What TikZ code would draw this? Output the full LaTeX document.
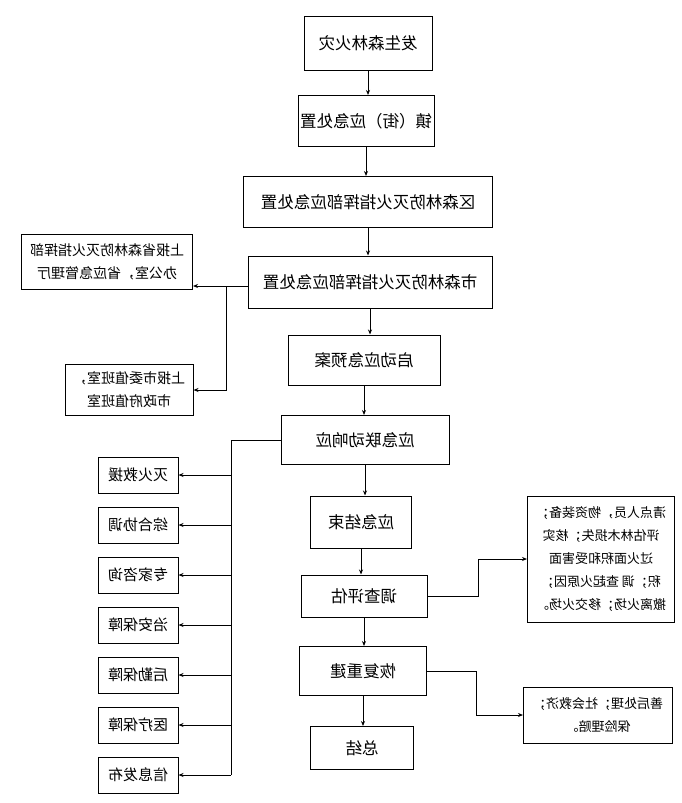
\documentclass[tikz,border=0pt]{standalone}
\usepackage{fontspec}
\setmainfont{Noto Sans CJK SC}
\usetikzlibrary{arrows.meta}

\begin{document}
\begin{tikzpicture}[x=1pt,y=-1pt,
  box/.style={draw,black,line width=1pt,xscale=-1,inner sep=2pt,align=center,font=\fontsize{16.5}{23}\selectfont},
  sidebox/.style={box,font=\fontsize{14}{23}\selectfont},
  listbox/.style={box,font=\fontsize{15}{23}\selectfont},
  notebox/.style={box,font=\fontsize{13}{23}\selectfont},
  arr/.style={line width=1pt,-{Stealth[length=\l, width=\w]}},
  line/.style={line width=1pt}]
\def\l{5pt}
\def\w{4pt}

\useasboundingbox (0,0) rectangle (681,803);

% main chain (boxes are mirrored: east is drawn on the left)
\node [box, minimum width=128, minimum height=54, name=b1]  at (368,43)  {发生森林火灾};
\node [box, minimum width=131, minimum height=51, name=b2]  at (366,121) {镇（街）应急处置};
\node [box, minimum width=249, minimum height=51, name=b3]  at (368,202) {区森林防灭火指挥部应急处置};
\node [box, minimum width=244, minimum height=52, name=b4]  at (370,282) {市森林防灭火指挥部应急处置};
\node [box, minimum width=152, minimum height=50, name=b5]  at (364,360) {启动应急预案};
\node [box, minimum width=168, minimum height=49, name=b6]  at (365,440) {应急联动响应};
\node [box, minimum width=101, minimum height=52, name=b7]  at (361,522) {应急结束};
\node [box, minimum width=126, minimum height=42, name=b8]  at (364,596) {调查评估};
\node [box, minimum width=127, minimum height=49, name=b9]  at (363,671) {恢复重建};
\node [box, minimum width=103, minimum height=43, name=b10] at (362,748) {总结};

\foreach \i [evaluate=\i as \j using int(\i+1)] in {1,...,9}
  \draw [arr] (b\i.south) -- (b\i.south |- b\j.north);

% reports
\node [sidebox, minimum width=171, minimum height=55, name=r1] at (107,262) {上报省森林防灭火指挥部\\办公室，省应急管理厅};
\node [sidebox, minimum width=128, minimum height=51, name=r2] at (129,390) {上报市委值班室，\\市政府值班室};
\coordinate (jr) at (226,286);
\draw [arr] (b4.east |- jr) -- (r1.west |- jr);
\draw [arr] (jr) |- (r2.west);

% linked actions
\coordinate (t1) at (231,440);
\coordinate (t2) at (231,775);
\draw [line] (b6.east) -- (t1) -- (t2);
\foreach \txt [count=\i] in {灭火救援,综合协调,专家咨询,治安保障,后勤保障,医疗保障,信息发布}
{
  \node [listbox, minimum width=80, minimum height=36, name=s\i] at (138,{475+50*(\i-1)}) {\txt};
  \draw [arr] (s\i.west -| t1) -- (s\i.west);
}

% follow-up
\node [notebox, minimum width=147, minimum height=126, name=n1] at (601,559) {清点人员，物资装备；\\评估林木损失；核实\\过火面积和受害面\\积；调 查起火原因；\\撤离火场；移交火场。};
\node [notebox, minimum width=149, minimum height=56, name=n2] at (598,715) {善后处理；社会救济；\\保险理赔。};
\draw [arr] (b8.west) -- ++(51,0) |- (n1.east);
\draw [arr] (b9.west) -- ++(49,0) |- (n2.east);
%\node at (600,780) {};
\end{tikzpicture}
\end{document}
